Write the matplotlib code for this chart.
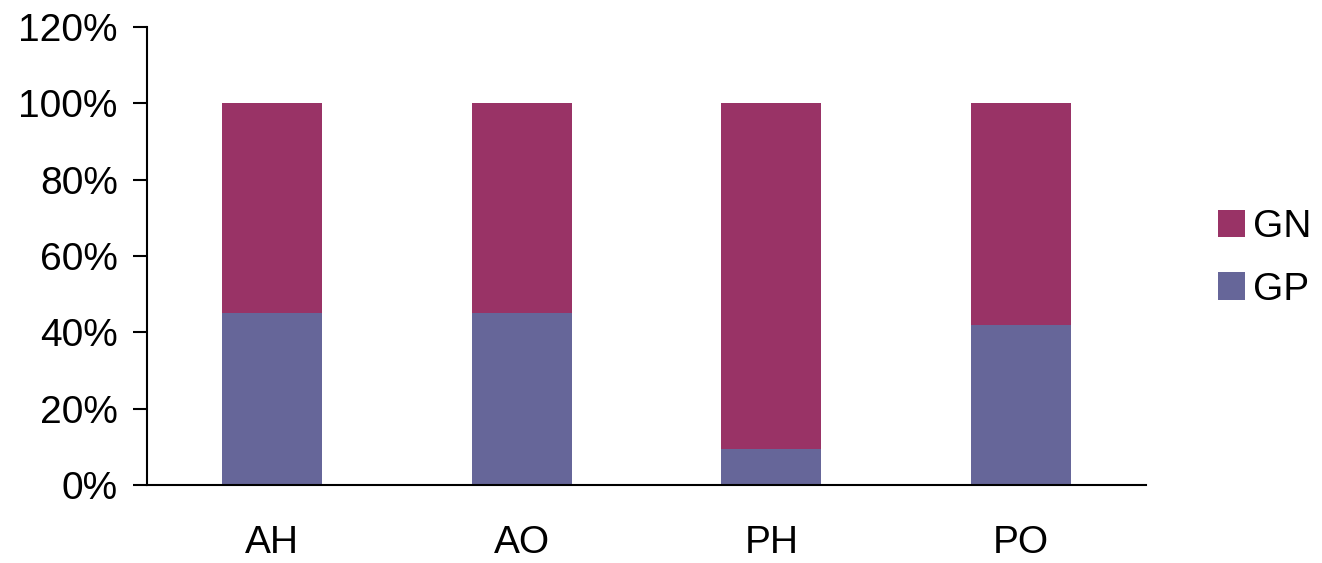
import matplotlib
matplotlib.use('Agg')
import matplotlib.pyplot as plt
import numpy as np
from matplotlib.ticker import PercentFormatter

plt.rcParams['font.family'] = ['Liberation Sans', 'DejaVu Sans']

# data (share of each group, %)
categories = ['AH', 'AO', 'PH', 'PO']
gp = [45.2, 45.2, 9.4, 42.0]
gn = [100 - v for v in gp]

c_gp = '#666699'
c_gn = '#993366'

fig = plt.figure(figsize=(13.22, 5.63), dpi=100)
ax = fig.add_axes([0.1112, 0.1385, 0.7557, 0.8135])

x = np.arange(len(categories))
ax.bar(x, gp, width=0.4, color=c_gp, label='GP')
ax.bar(x, gn, width=0.4, bottom=gp, color=c_gn, label='GN')

ax.set_xlim(-0.5, len(categories) - 0.5)
ax.set_ylim(0, 120)
ax.set_yticks(np.arange(0, 121, 20))
ax.yaxis.set_major_formatter(PercentFormatter(decimals=0))
ax.set_xticks(x)
ax.set_xticklabels(categories)

for s in ['top', 'right']:
    ax.spines[s].set_visible(False)
for s in ['left', 'bottom']:
    ax.spines[s].set_linewidth(1.5)

ax.tick_params(axis='y', labelsize=28, length=10, width=1.5, pad=11, direction='out')
ax.tick_params(axis='x', labelsize=28, length=0, pad=29)

handles, labels = ax.get_legend_handles_labels()
fig.legend(handles[::-1], labels[::-1], loc='center left',
           bbox_to_anchor=(1218 / 1322, 1 - 258.5 / 563),
           frameon=False, fontsize=28, handlelength=0.7, handleheight=0.7,
           handletextpad=0.2, labelspacing=0.68, borderpad=0, borderaxespad=0)

fig.savefig('out.png', dpi=100)
